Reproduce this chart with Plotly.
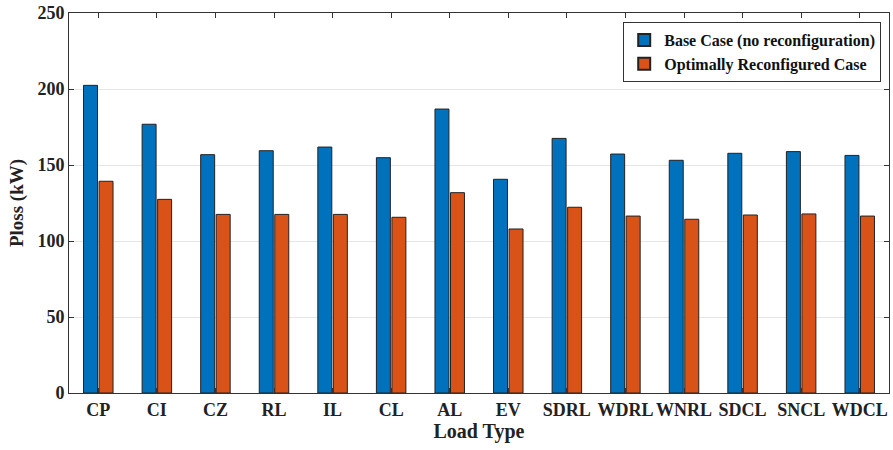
import plotly.graph_objects as go

categories = ["CP", "CI", "CZ", "RL", "IL", "CL", "AL", "EV", "SDRL", "WDRL", "WNRL", "SDCL", "SNCL", "WDCL"]
base_case = [202.4, 176.8, 156.8, 159.4, 161.8, 154.8, 186.8, 140.6, 167.5, 157.2, 153.1, 157.7, 158.8, 156.3]
reconfigured = [139.3, 127.4, 117.5, 117.5, 117.5, 115.6, 131.8, 107.9, 122.2, 116.4, 114.3, 117.1, 117.8, 116.4]
y_ticks = [0, 50, 100, 150, 200, 250]

FONT = "Liberation Serif"

fig = go.Figure()
fig.add_trace(go.Bar(x=categories, y=base_case, name="<b>Base Case (no reconfiguration)</b>",
                     marker=dict(color="#0072BD", line=dict(color="#222222", width=1))))
fig.add_trace(go.Bar(x=categories, y=reconfigured, name="<b>Optimally Reconfigured Case</b>",
                     marker=dict(color="#D95319", line=dict(color="#222222", width=1))))

fig.update_layout(
    width=893, height=450,
    margin=dict(l=69, r=4, t=13, b=57),
    paper_bgcolor="white", plot_bgcolor="white",
    barmode="group", bargap=0.47, bargroupgap=0.1,
    font=dict(family=FONT, color="#222222"),
    legend=dict(x=0.9905, y=0.976, xanchor="right", yanchor="top",
                bgcolor="white", bordercolor="#333333", borderwidth=1,
                font=dict(family=FONT, size=16, color="#111111"),
                tracegroupgap=0, itemsizing="constant", itemwidth=30),
    showlegend=True,
)
fig.update_xaxes(
    range=[-0.5, len(categories) - 0.5],
    tickvals=categories, ticktext=[f"<b>{c}</b>" for c in categories],
    showline=True, linecolor="#333333", linewidth=1, mirror="ticks",
    ticks="inside", ticklen=5, tickcolor="#333333",
    tickfont=dict(family=FONT, size=18, color="#222222"),
    title=dict(text="<b>Load Type</b>", font=dict(family=FONT, size=20, color="#222222"), standoff=4),
    showgrid=False,
)
fig.update_yaxes(
    range=[0, 250], tickvals=y_ticks, ticktext=[f"<b>{v}</b>" for v in y_ticks],
    showline=True, linecolor="#333333", linewidth=1, mirror="ticks",
    ticks="inside", ticklen=5, tickcolor="#333333",
    tickfont=dict(family=FONT, size=18, color="#222222"),
    title=dict(text="<b>Ploss (kW)</b>", font=dict(family=FONT, size=19, color="#222222"), standoff=8),
    showgrid=True, gridcolor="#E6E6E6", gridwidth=1, zeroline=False,
)

fig.write_html("out.html", config={"displayModeBar": False},
               post_script="document.body.style.margin='0px';")
